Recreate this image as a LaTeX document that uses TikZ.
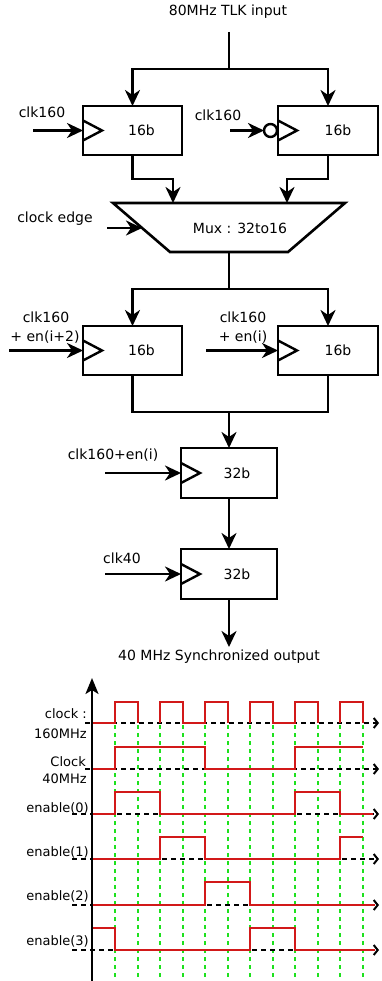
\documentclass[tikz,border=0pt]{standalone}
\usepackage{fontspec}
\setmainfont{DejaVu Sans}
\usetikzlibrary{arrows.meta}
\definecolor{sigred}{RGB}{210,25,25}
\definecolor{gridgreen}{RGB}{30,225,30}
\begin{document}
\begin{tikzpicture}[x=1pt,y=-1pt,
  reg/.style={draw, line width=2.6pt, minimum width=99pt, minimum height=49pt, inner sep=0pt, outer sep=0pt},
  wire/.style={line width=2.6pt},
  arr/.style={line width=2.6pt, -{Stealth[length=16pt,width=15pt,inset=5pt]}},
  lbl/.style={font=\fontsize{14}{16}\selectfont, inner sep=0pt},
  tlbl/.style={font=\fontsize{13}{15}\selectfont, inner sep=0pt, anchor=east},
  sig/.style={draw=sigred, line width=2pt},
  taxis/.style={line width=2pt, dash pattern=on 5pt off 4pt, -{Straight Barb[length=4pt,width=10pt]}},
  gridline/.style={draw=gridgreen, line width=2pt, dash pattern=on 4pt off 4pt},
  clktri/.style={line width=2.4pt}
]
\useasboundingbox (0,0) rectangle (381,981);

% ---------------- block diagram ----------------
\node[lbl] (in) at (228,12) {80MHz TLK input};
\coordinate (inTop) at (229,32);
\coordinate (split1) at (229,69);

\node[reg, label={[lbl,xshift=9pt]center:16b}] (regA) at (132.5,130.5) {};
\node[reg, minimum width=100pt, label={[lbl,xshift=10pt]center:16b}] (regB) at (328,130.5) {};

\draw[wire] (inTop) -- (split1);
\draw[arr] (split1) -| (regA.north);
\draw[arr] (split1) -| (regB.north);

% clock triangles
\draw[clktri] (regA.west) ++(0,-10) -- ++(19,10) -- ++(-19,10);
\draw[clktri] (regB.west) ++(0,-10) -- ++(19,10) -- ++(-19,10);

\node[lbl] (c1) at (42,112) {clk160};
\coordinate (c1s) at (33,130.5);
\draw[arr] (c1s) -- (regA.west);

\node[lbl] (c2) at (218,115) {clk160};
\node[circle, draw, line width=2.4pt, minimum size=13pt, inner sep=0pt, outer sep=0pt] (inv) at (270.5,130.5) {};
\coordinate (c2s) at (230,130.5);
\draw[arr] (c2s) -- (inv.west);

% mux
\coordinate (mTL) at (113,203);
\coordinate (mTR) at (345,203);
\coordinate (mBR) at (288,252);
\coordinate (mBL) at (170,252);
\draw[line width=2.6pt, line join=miter] (mTL) -- (mTR) -- (mBR) -- (mBL) -- cycle;
\node[lbl] (mux) at (240,228) {Mux : 32to16};
\coordinate (mA) at (173,203);
\coordinate (mB) at (287,203);
\coordinate (mOut) at (229,252);
\draw[arr] (regA.south) -- ++(0,24) -| (mA);
\draw[arr] (regB.south) -- ++(0,24) -| (mB);

\node[lbl] (ce) at (55,219) {clock edge};
\coordinate (ces) at (107,228);
\coordinate (cee) at (142,228);
\draw[arr] (ces) -- (cee);

% second stage
\coordinate (split2) at (229,289);
\node[reg, label={[lbl,xshift=9pt]center:16b}] (regC) at (132.5,350.5) {};
\node[reg, minimum width=100pt, label={[lbl,xshift=10pt]center:16b}] (regD) at (328,350.5) {};
\draw[wire] (mOut) -- (split2);
\draw[arr] (split2) -| (regC.north);
\draw[arr] (split2) -| (regD.north);
\draw[clktri] (regC.west) ++(0,-10) -- ++(19,10) -- ++(-19,10);
\draw[clktri] (regD.west) ++(0,-10) -- ++(19,10) -- ++(-19,10);

\node[lbl] (c3a) at (46,317) {clk160};
\node[lbl] (c3b) at (45,337) {+ en(i+2)};
\coordinate (c3s) at (9,350.5);
\draw[arr] (c3s) -- (regC.west);

\node[lbl] (c4a) at (243,317) {clk160};
\node[lbl] (c4b) at (243,337) {+ en(i)};
\coordinate (c4s) at (206,350.5);
\draw[arr] (c4s) -- (regD.west);

\coordinate (merge) at (229,412);
\node[reg, minimum width=96pt, minimum height=50pt, label={[lbl,xshift=8pt]center:32b}] (regE) at (229,473) {};
\draw[wire] (regC.south) |- (merge);
\draw[wire] (regD.south) |- (merge);
\draw[arr] (merge) -- (regE.north);
\draw[clktri] (regE.west) ++(0,-10) -- ++(19,10) -- ++(-19,10);
\node[lbl] (c5) at (113,455) {clk160+en(i)};
\coordinate (c5s) at (105,473);
\draw[arr] (c5s) -- (regE.west);

\node[reg, minimum width=96pt, minimum height=50pt, label={[lbl,xshift=8pt]center:32b}] (regF) at (229,574) {};
\draw[arr] (regE.south) -- (regF.north);
\draw[clktri] (regF.west) ++(0,-10) -- ++(19,10) -- ++(-19,10);
\node[lbl] (c6) at (122,558) {clk40};
\coordinate (c6s) at (105,574);
\draw[arr] (c6s) -- (regF.west);

\coordinate (outEnd) at (229,647);
\draw[arr] (regF.south) -- (outEnd);
\node[lbl] (out) at (219,657) {40 MHz Synchronized output};

% ---------------- timing diagram ----------------
\foreach \x in {115,138,160,183,205,228,250,273,295,318,340,363}
  \draw[gridline] (\x,725) -- (\x,981);

% time axes
\draw[taxis] (85,723) -- (379,723);
\draw[taxis] (85,769) -- (379,769);
\draw[taxis] (72,814) -- (379,814);
\draw[taxis] (72,859) -- (379,859);
\draw[taxis] (72,905) -- (379,905);
\draw[taxis] (72,950) -- (379,950);

% clock 160
\draw[sig] (92,723) -- (115,723) -- (115,702) -- (138,702) -- (138,723);
\draw[sig] (160,723) -- (160,702) -- (183,702) -- (183,723) -- (205,723) -- (205,702) -- (228,702) -- (228,723);
\draw[sig] (250,723) -- (250,702) -- (273,702) -- (273,723) -- (295,723) -- (295,702) -- (318,702) -- (318,723);
\draw[sig] (340,723) -- (340,702) -- (363,702) -- (363,723);
% clock 40
\draw[sig] (92,769) -- (115,769) -- (115,747) -- (205,747) -- (205,769) -- (295,769) -- (295,747) -- (363,747);
% enable(0)
\draw[sig] (92,814) -- (115,814) -- (115,792) -- (160,792) -- (160,814) -- (295,814) -- (295,792) -- (340,792) -- (340,814) -- (373,814);
% enable(1)
\draw[sig] (92,859) -- (160,859) -- (160,837) -- (205,837) -- (205,859) -- (340,859) -- (340,837) -- (363,837);
% enable(2)
\draw[sig] (92,905) -- (205,905) -- (205,882) -- (250,882) -- (250,905) -- (375,905);
% enable(3)
\draw[sig] (92,928) -- (115,928) -- (115,950) -- (250,950) -- (250,928) -- (295,928) -- (295,950) -- (375,950);

% vertical axis
\coordinate (vaxB) at (92,981);
\coordinate (vaxT) at (92,678);
\draw[line width=2.4pt, -{Stealth[length=16pt,width=13pt,inset=4pt]}] (vaxB) -- (vaxT);

% labels
\node[tlbl] (l1a) at (87,714) {clock :};
\node[tlbl] (l1b) at (87,734) {160MHz};
\node[tlbl] (l2a) at (86,762) {Clock};
\node[tlbl] (l2b) at (87,779) {40MHz};
\node[tlbl] (l3) at (89,808) {enable(0)};
\node[tlbl] (l4) at (89,852) {enable(1)};
\node[tlbl] (l5) at (89,896) {enable(2)};
\node[tlbl] (l6) at (89,941) {enable(3)};
\end{tikzpicture}
\end{document}
